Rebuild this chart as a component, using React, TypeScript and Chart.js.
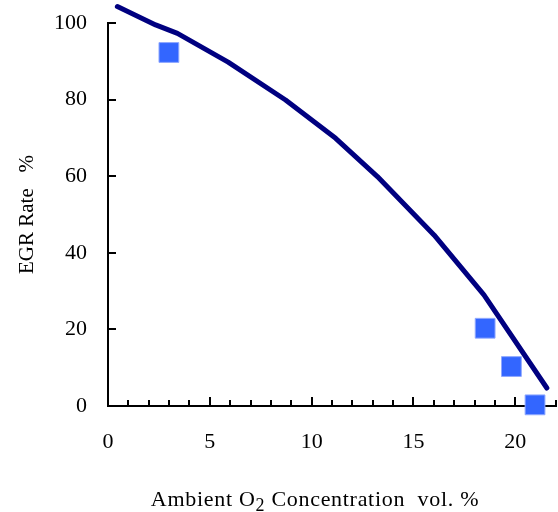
import React, { useEffect, useRef } from "react";
import { Chart, registerables } from "chart.js";

Chart.register(...registerables);

const curveX = [0.46, 2.34, 3.41, 5.9, 8.72, 11.18, 13.23, 16.02, 18.46, 21.55];
const curveY = [104.3, 99.5, 97.3, 89.8, 79.9, 69.9, 59.9, 44.6, 29, 4.7];
const measX = [2.99, 18.52, 19.81, 20.97];
const measY = [92.3, 20.3, 10.3, 0.3];
const xTickValues = [0, 5, 10, 15, 20];
const yTickValues = [0, 20, 40, 60, 80, 100];

const FONT = "'Liberation Serif', 'Times New Roman', serif";

const tickPlugin = {
  id: "inwardTicks",
  beforeDatasetsDraw(chart: any) {
    const { ctx, chartArea, scales } = chart;
    const x = scales.x;
    const y = scales.y;
    ctx.save();
    ctx.strokeStyle = "#000";
    ctx.lineWidth = 2;
    ctx.beginPath();
    for (let v = 0; v <= 22; v++) {
      const px = Math.round(x.getPixelForValue(v));
      const len = v % 5 === 0 ? 9 : 6;
      ctx.moveTo(px, chartArea.bottom);
      ctx.lineTo(px, chartArea.bottom - len);
    }
    for (const v of yTickValues) {
      const py = Math.round(y.getPixelForValue(v));
      ctx.moveTo(chartArea.left, py);
      ctx.lineTo(chartArea.left + 8, py);
    }
    ctx.stroke();
    ctx.restore();
  },
};

export default function App() {
  const ref = useRef<HTMLCanvasElement | null>(null);
  useEffect(() => {
    if (!ref.current) return;
    const chart = new Chart(ref.current, {
      type: "scatter",
      data: {
        datasets: [
          {
            type: "line",
            label: "Calculated",
            data: curveX.map((v, i) => ({ x: v, y: curveY[i] })),
            borderColor: "#000080",
            borderWidth: 5,
            pointRadius: 0,
            tension: 0,
            fill: false,
            clip: false as any,
            borderCapStyle: "round",
            borderJoinStyle: "round",
          } as any,
          {
            label: "Measured",
            data: measX.map((v, i) => ({ x: v, y: measY[i] })),
            pointStyle: "rect",
            pointRadius: 14,
            backgroundColor: "#3366ff",
            borderColor: "#8fa8ff",
            borderWidth: 1,
            clip: false as any,
          } as any,
        ],
      },
      options: {
        animation: false,
        responsive: false,
        maintainAspectRatio: false,
        layout: { autoPadding: false, padding: { top: 23, right: 2, left: 0, bottom: 0 } },
        plugins: { legend: { display: false }, tooltip: { enabled: false } },
        scales: {
          x: {
            type: "linear",
            min: 0,
            max: 22,
            afterFit: (s: any) => {
              s.height = 106;
              s.paddingLeft = 0;
              s.paddingRight = 0;
            },
            afterBuildTicks: (s: any) => {
              s.ticks = xTickValues.map((v) => ({ value: v }));
            },
            grid: { display: false, drawTicks: false },
            border: { display: true, color: "#000", width: 2 },
            ticks: {
              includeBounds: false,
              color: "#000",
              padding: 23,
              maxRotation: 0,
              font: { family: FONT, size: 22 },
            },
          },
          y: {
            type: "linear",
            min: 0,
            max: 100,
            afterFit: (s: any) => {
              s.width = 108;
              s.paddingTop = 0;
              s.paddingBottom = 0;
            },
            afterBuildTicks: (s: any) => {
              s.ticks = yTickValues.map((v) => ({ value: v }));
            },
            grid: { display: false, drawTicks: false },
            border: { display: true, color: "#000", width: 2 },
            ticks: {
              color: "#000",
              padding: 21,
              font: { family: FONT, size: 22 },
            },
            title: {
              display: true,
              text: "EGR Rate   %",
              color: "#000",
              font: { family: FONT, size: 21, weight: "normal" },
              padding: { top: 15, bottom: 0 },
            },
          },
        },
      },
      plugins: [tickPlugin],
    } as any);
    return () => chart.destroy();
  }, []);

  return (
    <div style={{ position: "fixed", left: 0, top: 0, width: 558, height: 512, background: "#fff" }}>
      <canvas ref={ref} width={558} height={512} style={{ display: "block", width: 558, height: 512 }} />
      <div
        style={{
          position: "absolute",
          left: 0,
          width: 630,
          top: 487,
          textAlign: "center",
          fontFamily: FONT,
          fontSize: 22,
          letterSpacing: "0.7px",
          lineHeight: "24px",
          color: "#000",
          whiteSpace: "pre",
        }}
      >
        Ambient O<sub style={{ fontSize: 18, lineHeight: 0 }}>2</sub> Concentration  vol. %
      </div>
    </div>
  );
}
